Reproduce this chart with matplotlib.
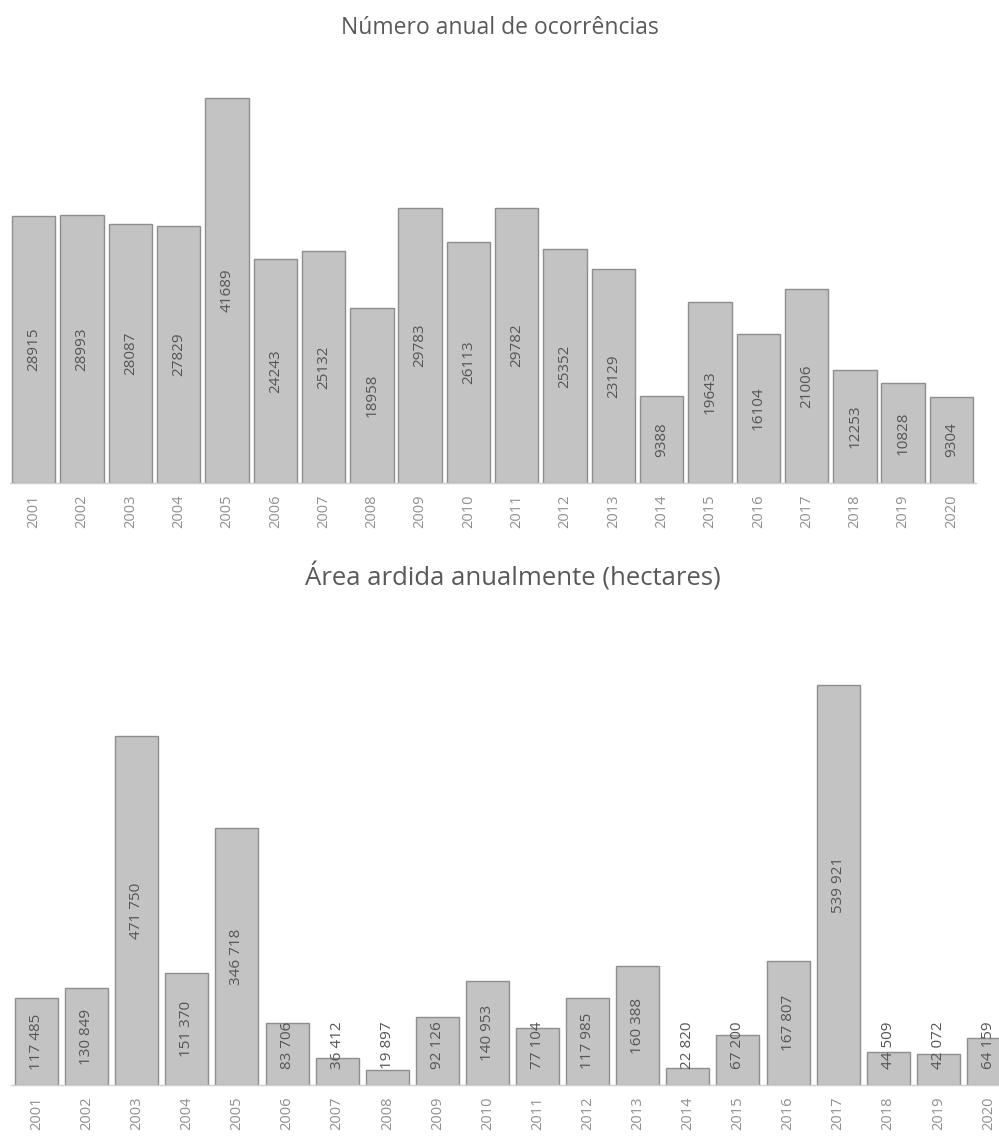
import matplotlib
matplotlib.use('Agg')
import matplotlib.pyplot as plt
import numpy as np

# --- Data ---
years = [str(y) for y in range(2001, 2021)]
ocorrencias = [28915, 28993, 28087, 27829, 41689, 24243, 25132, 18958, 29783, 26113,
               29782, 25352, 23129, 9388, 19643, 16104, 21006, 12253, 10828, 9304]
area_ardida = [117485, 130849, 471750, 151370, 346718, 83706, 36412, 19897, 92126, 140953,
               77104, 117985, 160388, 22820, 67200, 167807, 539921, 44509, 42072, 64159]

TITLE_TOP = "Número anual de ocorrências"
TITLE_BOT = "Área ardida anualmente (hectares)"

W, H = 999, 1137
BAR_FACE = "#c3c3c3"
BAR_EDGE = "#8e8e8e"
TICK_COL = "#8f8f8f"
LABEL_COL = "#555555"
TITLE_COL = "#595959"
FONT = "Open Sans"

plt.rcParams['font.family'] = [FONT, 'DejaVu Sans']

fig = plt.figure(figsize=(W / 100, H / 100), dpi=100)


def px_axes(left, bottom, width, height):
    # pixel box (from top-left origin) -> figure fraction
    return fig.add_axes([left / W, 1 - bottom / H, width / W, height / H])


def style(ax):
    for s in ('top', 'right', 'left'):
        ax.spines[s].set_visible(False)
    ax.spines['bottom'].set_color("#d0d0d0")
    ax.spines['bottom'].set_linewidth(1.0)
    ax.set_yticks([])
    ax.tick_params(axis='x', length=0, pad=8, labelsize=10.5, labelcolor=TICK_COL,
                   labelrotation=90)


x = np.arange(len(years))

# --- Top chart ---
ax1 = px_axes(9.6, 483, 966, 415.6)
ax1.bar(x, ocorrencias, width=0.9, color=BAR_FACE, edgecolor=BAR_EDGE, linewidth=1.0)
ax1.set_xlim(-0.5, len(years) - 0.5)
ax1.set_ylim(0, 45000)
ax1.set_xticks(x)
ax1.set_xticklabels(years)
style(ax1)
for xi, v in zip(x, ocorrencias):
    ax1.text(xi, v / 2, str(v), rotation=90, ha='center', va='center',
             fontsize=11, color=LABEL_COL)

# --- Bottom chart ---
ax2 = px_axes(11.5, 1085, 1002, 414.4)
ax2.bar(x, area_ardida, width=0.86, color=BAR_FACE, edgecolor=BAR_EDGE, linewidth=1.0)
ax2.set_xlim(-0.5, len(years) - 0.5)
ax2.set_ylim(0, 560000)
ax2.set_xticks(x)
ax2.set_xticklabels(years)
style(ax2)
for xi, v in zip(x, area_ardida):
    lab = f"{v:,}".replace(",", " ")
    ax2.text(xi, max(v / 2, 54000), lab, rotation=90, ha='center', va='center',
             fontsize=11, color=LABEL_COL)

fig.text(0.5, 1 - 28 / H, TITLE_TOP, ha='center', va='center', fontsize=16.5, color=TITLE_COL)
fig.text(0.513, 1 - 577 / H, TITLE_BOT, ha='center', va='center', fontsize=18.5, color=TITLE_COL)

fig.savefig("out.png", dpi=100)
